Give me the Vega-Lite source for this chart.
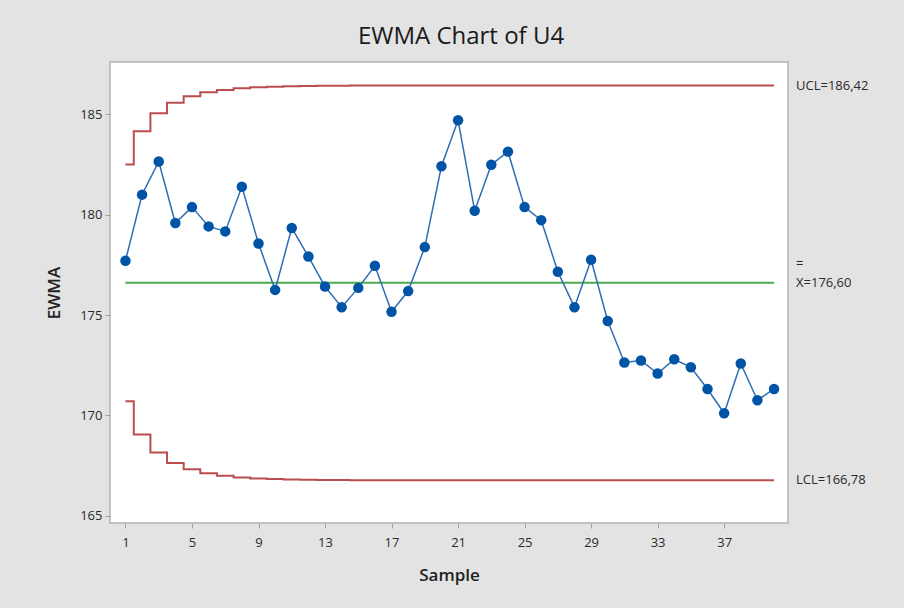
{
  "$schema": "https://vega.github.io/schema/vega-lite/v6.json",
  "autosize": {"type": "none"},
  "width": 678,
  "height": 461,
  "padding": {"left": 110, "top": 62, "right": 116, "bottom": 85},
  "background": "#e3e3e3",
  "config": {
    "font": "Open Sans",
    "view": {"fill": "#ffffff", "stroke": "#b4b4b4", "strokeWidth": 1.5},
    "axis": {
      "domain": false,
      "grid": false,
      "tickColor": "#a0a0a0",
      "tickSize": 5,
      "labelFont": "Open Sans",
      "labelFontSize": 13,
      "labelColor": "#2a2a2a",
      "titleFont": "Open Sans",
      "titleFontSize": 17,
      "titleFontWeight": 600,
      "titleColor": "#222222"
    }
  },
  "title": {
    "text": "EWMA Chart of U4",
    "font": "Open Sans",
    "fontSize": 24,
    "fontWeight": 500,
    "color": "#1a1a1a",
    "anchor": "middle",
    "dx": 12,
    "offset": 13
  },
  "datasets": {
    "ewma": [
      {"sample": 1, "ewma": 177.70},
      {"sample": 2, "ewma": 180.99},
      {"sample": 3, "ewma": 182.64},
      {"sample": 4, "ewma": 179.58},
      {"sample": 5, "ewma": 180.37},
      {"sample": 6, "ewma": 179.41},
      {"sample": 7, "ewma": 179.16},
      {"sample": 8, "ewma": 181.38},
      {"sample": 9, "ewma": 178.56},
      {"sample": 10, "ewma": 176.25},
      {"sample": 11, "ewma": 179.33},
      {"sample": 12, "ewma": 177.91},
      {"sample": 13, "ewma": 176.42},
      {"sample": 14, "ewma": 175.39},
      {"sample": 15, "ewma": 176.35},
      {"sample": 16, "ewma": 177.45},
      {"sample": 17, "ewma": 175.16},
      {"sample": 18, "ewma": 176.19},
      {"sample": 19, "ewma": 178.38},
      {"sample": 20, "ewma": 182.40},
      {"sample": 21, "ewma": 184.69},
      {"sample": 22, "ewma": 180.19},
      {"sample": 23, "ewma": 182.48},
      {"sample": 24, "ewma": 183.13},
      {"sample": 25, "ewma": 180.37},
      {"sample": 26, "ewma": 179.72},
      {"sample": 27, "ewma": 177.15},
      {"sample": 28, "ewma": 175.39},
      {"sample": 29, "ewma": 177.75},
      {"sample": 30, "ewma": 174.70},
      {"sample": 31, "ewma": 172.64},
      {"sample": 32, "ewma": 172.74},
      {"sample": 33, "ewma": 172.09},
      {"sample": 34, "ewma": 172.80},
      {"sample": 35, "ewma": 172.40},
      {"sample": 36, "ewma": 171.32},
      {"sample": 37, "ewma": 170.11},
      {"sample": 38, "ewma": 172.59},
      {"sample": 39, "ewma": 170.76},
      {"sample": 40, "ewma": 171.32}
    ],
    "limits": [
      {"sample": 1, "ucl": 182.49, "lcl": 170.71},
      {"sample": 2, "ucl": 184.15, "lcl": 169.06},
      {"sample": 3, "ucl": 185.04, "lcl": 168.16},
      {"sample": 4, "ucl": 185.56, "lcl": 167.64},
      {"sample": 5, "ucl": 185.88, "lcl": 167.32},
      {"sample": 6, "ucl": 186.08, "lcl": 167.12},
      {"sample": 7, "ucl": 186.20, "lcl": 167.00},
      {"sample": 8, "ucl": 186.28, "lcl": 166.92},
      {"sample": 9, "ucl": 186.33, "lcl": 166.87},
      {"sample": 10, "ucl": 186.36, "lcl": 166.84},
      {"sample": 11, "ucl": 186.38, "lcl": 166.82},
      {"sample": 12, "ucl": 186.40, "lcl": 166.80},
      {"sample": 13, "ucl": 186.41, "lcl": 166.79},
      {"sample": 14, "ucl": 186.41, "lcl": 166.79},
      {"sample": 15, "ucl": 186.42, "lcl": 166.78},
      {"sample": 40, "ucl": 186.42, "lcl": 166.78}
    ],
    "labels": [
      {"text": "UCL=186,42", "value": 186.42},
      {"text": "X=176,60", "value": 176.60},
      {"text": "LCL=166,78", "value": 166.78}
    ]
  },
  "encoding": {
    "x": {
      "type": "quantitative",
      "scale": {"domain": [0.07, 40.84], "nice": false, "zero": false},
      "axis": {"values": [1, 5, 9, 13, 17, 21, 25, 29, 33, 37], "title": "Sample", "labelPadding": 8, "titlePadding": 18}
    },
    "y": {
      "type": "quantitative",
      "scale": {"domain": [164.65, 187.59], "nice": false, "zero": false},
      "axis": {"values": [165, 170, 175, 180, 185], "title": "EWMA", "labelPadding": 3, "titlePadding": 16}
    }
  },
  "layer": [
    {
      "data": {"name": "limits"},
      "mark": {"type": "line", "interpolate": "step", "color": "#b23a3a", "strokeWidth": 2, "opacity": 0.9},
      "encoding": {"x": {"field": "sample"}, "y": {"field": "ucl"}}
    },
    {
      "data": {"name": "limits"},
      "mark": {"type": "line", "interpolate": "step", "color": "#b23a3a", "strokeWidth": 2, "opacity": 0.9},
      "encoding": {"x": {"field": "sample"}, "y": {"field": "lcl"}}
    },
    {
      "data": {"values": [{"from": 1, "to": 40, "center": 176.6}]},
      "mark": {"type": "rule", "color": "#4caa4c", "strokeWidth": 2},
      "encoding": {"x": {"field": "from"}, "x2": {"field": "to"}, "y": {"field": "center"}}
    },
    {
      "data": {"name": "ewma"},
      "mark": {"type": "line", "color": "#2f6db5", "strokeWidth": 1.5},
      "encoding": {"x": {"field": "sample"}, "y": {"field": "ewma"}}
    },
    {
      "data": {"name": "ewma"},
      "mark": {"type": "point", "filled": true, "shape": "circle", "size": 110, "color": "#0054a6", "opacity": 1},
      "encoding": {"x": {"field": "sample"}, "y": {"field": "ewma"}}
    },
    {
      "data": {"name": "labels"},
      "mark": {"type": "text", "align": "left", "baseline": "middle", "dx": 8, "fontSize": 13, "color": "#2a2a2a", "font": "Open Sans"},
      "encoding": {"x": {"datum": 40.84}, "y": {"field": "value"}, "text": {"field": "text"}}
    },
    {
      "data": {"values": [{"text": "=", "value": 176.60}]},
      "mark": {"type": "text", "align": "left", "baseline": "middle", "dx": 8, "dy": -19, "fontSize": 13, "color": "#2a2a2a", "font": "Open Sans"},
      "encoding": {"x": {"datum": 40.84}, "y": {"field": "value"}, "text": {"field": "text"}}
    }
  ]
}
